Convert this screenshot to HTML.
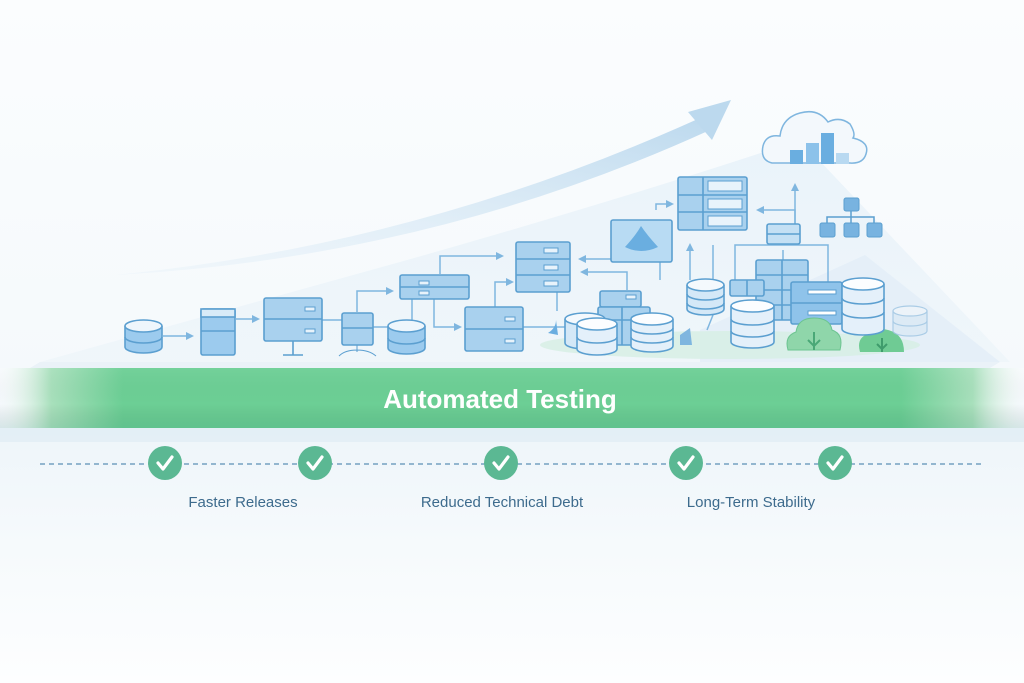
<!DOCTYPE html>
<html><head><meta charset="utf-8"><style>
html,body{margin:0;padding:0;width:1024px;height:683px;overflow:hidden;background:#fff}
svg{display:block}
text{font-family:"Liberation Sans",sans-serif}
</style></head><body>
<svg width="1024" height="683" viewBox="0 0 1024 683" xmlns="http://www.w3.org/2000/svg">
<defs>
<linearGradient id="bg" x1="0" y1="0" x2="0" y2="1">
<stop offset="0" stop-color="#fbfdfe"/><stop offset="0.55" stop-color="#f5f9fc"/><stop offset="0.63" stop-color="#eef5fa"/><stop offset="0.8" stop-color="#f6fafc"/><stop offset="1" stop-color="#fdfeff"/>
</linearGradient>
<linearGradient id="hill" x1="0" y1="0" x2="0" y2="1">
<stop offset="0" stop-color="#e6f1f9"/><stop offset="1" stop-color="#eef5fa"/>
</linearGradient>
<linearGradient id="band" x1="0" y1="0" x2="1" y2="0">
<stop offset="0" stop-color="#ffffff" stop-opacity="0.2"/><stop offset="0.05" stop-color="#a8e0bc"/><stop offset="0.12" stop-color="#6ccf95"/><stop offset="0.88" stop-color="#6ccf95"/><stop offset="0.95" stop-color="#a8e0bc"/><stop offset="1" stop-color="#ffffff" stop-opacity="0.2"/>
</linearGradient>
<linearGradient id="bandv" x1="0" y1="0" x2="0" y2="1">
<stop offset="0" stop-color="#fff" stop-opacity="0.05"/><stop offset="0.6" stop-color="#000" stop-opacity="0"/><stop offset="1" stop-color="#0a6a5a" stop-opacity="0.12"/>
</linearGradient>
<linearGradient id="arr" x1="0" y1="1" x2="1" y2="0">
<stop offset="0" stop-color="#e3eff8" stop-opacity="0.3"/><stop offset="1" stop-color="#bcd9ee"/>
</linearGradient>
<marker id="ah" markerWidth="8" markerHeight="8" refX="6" refY="4" orient="auto" markerUnits="userSpaceOnUse"><path d="M0,0 L8,4 L0,8 z" fill="#7fb6df"/></marker>
</defs>
<rect width="1024" height="683" fill="url(#bg)"/>
<!-- hills -->
<path d="M40 362 L400 262 Q620 200 800 140 L1010 362 Z" fill="url(#hill)" opacity="0.8"/>
<path d="M700 330 L865 255 L1000 362 L700 362Z" fill="#e2eef7" opacity="0.8"/>
<path d="M40 362 L1000 362 L990 368 L30 368Z" fill="#eaf2f8"/>
<!-- ground green tint -->
<ellipse cx="730" cy="345" rx="190" ry="14" fill="#d6efe3" opacity="0.8"/>
<!-- growth arrow -->
<path d="M115 275 Q420 245 700 118 L710 130 Q430 258 115 275Z" fill="url(#arr)"/>
<path d="M688 112 L731 100 L712 140 Z" fill="#bcd9ee"/>

<g stroke="#7fb6df" stroke-width="1.5" fill="none">
<path d="M163 336 H192" marker-end="url(#ah)"/>
<path d="M236 319 H258" marker-end="url(#ah)"/>
<path d="M322 320 H342"/>
<path d="M357 312 V291 H392" marker-end="url(#ah)"/>
<path d="M373 327 H388"/>
<path d="M412 320 V299"/>
<path d="M440 274 V256 H502" marker-end="url(#ah)"/>
<path d="M434 299 V327 H460" marker-end="url(#ah)"/>
<path d="M523 327 H565"/>
<path d="M495 307 V282 H512" marker-end="url(#ah)"/>
<path d="M557 311 V262"/><path d="M557 270 V262" marker-end="url(#ah)"/>
<path d="M611 259 H580" marker-end="url(#ah)"/>
<path d="M627 290 V272 H582" marker-end="url(#ah)"/>
<path d="M660 280 V258 H658"/><path d="M660 260 V250" marker-end="url(#ah)"/>
<path d="M656 210 V204 H672" marker-end="url(#ah)"/>
<path d="M690 280 V245" marker-end="url(#ah)"/>
<path d="M713 280 V245"/>
<path d="M795 230 V210 H758" marker-end="url(#ah)"/>
<path d="M795 230 V185" marker-end="url(#ah)"/>
<path d="M735 280 V245 H828 V282"/>
<path d="M783 260 V250"/>
<path d="M713 315 L707 330"/>
</g>

<!-- cloud -->
<path d="M772 163 Q760 160 763 146 Q766 134 780 136 Q782 118 800 113 Q818 108 828 122 Q840 116 850 124 Q856 134 853 138 Q870 142 866 154 Q863 164 850 163 Z" fill="#f3f8fc" stroke="#7fb6df" stroke-width="1.5"/>
<rect x="790" y="150" width="13" height="14" fill="#6aaee0"/>
<rect x="806" y="143" width="13" height="21" fill="#8cc2ea"/>
<rect x="821" y="133" width="13" height="31" fill="#6aaee0"/>
<rect x="836" y="153" width="13" height="11" fill="#b8d9f1"/>

<!-- org chart -->
<g fill="#78b3e0" stroke="#5b9fd0" stroke-width="1">
<rect x="844" y="198" width="15" height="13" rx="2"/>
<rect x="820" y="223" width="15" height="14" rx="2"/>
<rect x="844" y="223" width="15" height="14" rx="2"/>
<rect x="867" y="223" width="15" height="14" rx="2"/>
</g>
<path d="M851 211 V223 M827 223 V217 H874 V223" stroke="#5b9fd0" stroke-width="1.5" fill="none"/>

<g stroke="#5b9fd0" stroke-width="1.6">
<!-- server left 200 -->
<rect x="201" y="309" width="34" height="46" rx="2" fill="#9ccbee"/>
<rect x="201" y="309" width="34" height="8" fill="#d8ebf8"/>
<line x1="201" y1="331" x2="235" y2="331"/>
<!-- monitor server -->
<rect x="264" y="298" width="58" height="43" rx="2" fill="#a9d1ee"/>
<line x1="264" y1="319" x2="322" y2="319"/>
<line x1="293" y1="341" x2="293" y2="355"/><line x1="283" y1="355" x2="303" y2="355"/>
<!-- small server -->
<rect x="342" y="313" width="31" height="32" rx="2" fill="#a9d1ee"/>
<line x1="342" y1="328" x2="373" y2="328"/>
<path d="M357 345 V352 M339 356 Q345 350 357 350 Q369 350 376 356" fill="none" stroke-width="1"/>
<!-- server 400 -->
<rect x="400" y="275" width="69" height="24" rx="2" fill="#a9d1ee"/>
<line x1="400" y1="287" x2="469" y2="287"/>
<!-- server 465 -->
<rect x="465" y="307" width="58" height="44" rx="2" fill="#a9d1ee"/>
<line x1="465" y1="329" x2="523" y2="329"/>
<!-- server 515 three -->
<rect x="516" y="242" width="54" height="50" rx="2" fill="#a9d1ee"/>
<line x1="516" y1="259" x2="570" y2="259"/><line x1="516" y1="275" x2="570" y2="275"/>
<!-- monitor panel -->
<rect x="611" y="220" width="61" height="42" rx="2" fill="#b8dbf3"/>
<!-- big server 678 -->
<rect x="678" y="177" width="69" height="53" rx="2" fill="#a9d1ee"/>
<line x1="678" y1="195" x2="747" y2="195"/><line x1="678" y1="212" x2="747" y2="212"/>
<line x1="703" y1="177" x2="703" y2="230"/>
<!-- small server 767 -->
<rect x="767" y="224" width="33" height="20" rx="2" fill="#c4e0f4"/>
<line x1="767" y1="234" x2="800" y2="234"/>
<!-- server 756 -->
<rect x="756" y="260" width="52" height="60" rx="2" fill="#a9d1ee"/>
<line x1="756" y1="275" x2="808" y2="275"/><line x1="756" y1="290" x2="808" y2="290"/><line x1="756" y1="305" x2="808" y2="305"/>
<line x1="782" y1="260" x2="782" y2="320"/>
<!-- small 730 -->
<rect x="730" y="280" width="34" height="16" rx="2" fill="#a9d1ee"/>
<line x1="747" y1="280" x2="747" y2="296"/>
<!-- server 791 -->
<rect x="791" y="282" width="51" height="42" rx="2" fill="#8fc3ea"/>
<line x1="791" y1="303" x2="842" y2="303"/>
<!-- cluster 598 -->
<rect x="600" y="291" width="41" height="16" rx="2" fill="#a9d1ee"/>
<rect x="598" y="307" width="52" height="38" rx="2" fill="#a9d1ee"/>
<line x1="598" y1="320" x2="650" y2="320"/><line x1="622" y1="307" x2="622" y2="345"/>
</g>
<g fill="#e8f3fb" stroke="#5b9fd0" stroke-width="1">
<rect x="419" y="281" width="10" height="4"/><rect x="419" y="291" width="10" height="4"/>
<rect x="505" y="317" width="10" height="4"/><rect x="505" y="339" width="10" height="4"/>
<rect x="305" y="307" width="10" height="4"/><rect x="305" y="329" width="10" height="4"/>
<rect x="544" y="248" width="14" height="5"/><rect x="544" y="265" width="14" height="5"/><rect x="544" y="281" width="14" height="5"/>
<rect x="708" y="181" width="34" height="10"/><rect x="708" y="199" width="34" height="10"/><rect x="708" y="216" width="34" height="10"/>
<rect x="626" y="295" width="10" height="4"/>
<rect x="808" y="290" width="28" height="4" fill="#fff"/><rect x="808" y="311" width="28" height="4" fill="#fff"/>
</g>
<path d="M625 247 Q636 235 641 226 Q647 235 658 247 Q641 255 625 247Z" fill="#6aaee0"/>
<path d="M548 333 Q556 328 556 320 L558 335Z" fill="#6aaee0"/>
<path d="M680 335 L690 328 L692 345 L680 345Z" fill="#7fb6df"/>

<!-- cylinders -->
<g stroke="#5b9fd0" stroke-width="1.6">
<path d="M125 326 v21 a18.5 6 0 0 0 37 0 v-21" fill="#9ccbee"/><ellipse cx="143.5" cy="326" rx="18.5" ry="6" fill="#eef6fc"/><path d="M125 337 a18.5 6 0 0 0 37 0" fill="none"/>
<path d="M388 326 v22 a18.5 6 0 0 0 37 0 v-22" fill="#9ccbee"/><ellipse cx="406.5" cy="326" rx="18.5" ry="6" fill="#eef6fc"/><path d="M388 338 a18.5 6 0 0 0 37 0" fill="none"/>
<path d="M687 285 v24 a18.5 6 0 0 0 37 0 v-24" fill="#d4e8f7"/><ellipse cx="705.5" cy="285" rx="18.5" ry="6" fill="#f4f9fd"/><path d="M687 294 a18.5 6 0 0 0 37 0 M687 303 a18.5 6 0 0 0 37 0" fill="none"/>
<path d="M565 319 v24 a20 6 0 0 0 40 0 v-24" fill="#d4e8f7"/><ellipse cx="585" cy="319" rx="20" ry="6" fill="#f4f9fd"/>
<path d="M577 324 v25 a20 6 0 0 0 40 0 v-25" fill="#e4f0fa"/><ellipse cx="597" cy="324" rx="20" ry="6" fill="#fbfdff"/><path d="M577 337 a20 6 0 0 0 40 0" fill="none"/>
<path d="M631 319 v27 a21 6 0 0 0 42 0 v-27" fill="#e4f0fa"/><ellipse cx="652" cy="319" rx="21" ry="6" fill="#fbfdff"/><path d="M631 328 a21 6 0 0 0 42 0 M631 337 a21 6 0 0 0 42 0" fill="none"/>
<path d="M731 306 v36 a21.5 6 0 0 0 43 0 v-36" fill="#e4f0fa"/><ellipse cx="752.5" cy="306" rx="21.5" ry="6" fill="#fbfdff"/><path d="M731 319 a21.5 6 0 0 0 43 0 M731 331 a21.5 6 0 0 0 43 0" fill="none"/>
</g>
<!-- bushes -->
<path d="M788 350 Q784 336 796 332 Q798 318 814 318 Q830 318 832 330 Q844 334 840 350Z" fill="#8fd6aa" stroke="#6cc491" stroke-width="1"/>
<path d="M814 350 V332 M808 340 L814 346 L820 340" stroke="#4aa877" stroke-width="2" fill="none"/>
<path d="M860 352 Q856 338 868 334 Q874 326 888 330 Q904 334 904 352Z" fill="#6fcb94"/>
<path d="M882 352 V338 M877 344 L882 349 L887 344" stroke="#3f9c6c" stroke-width="2" fill="none"/>
<g stroke="#5b9fd0" stroke-width="1.6">
<path d="M842 284 v45 a21 6 0 0 0 42 0 v-45" fill="#e4f0fa"/><ellipse cx="863" cy="284" rx="21" ry="6" fill="#fbfdff"/><path d="M842 298 a21 6 0 0 0 42 0 M842 312 a21 6 0 0 0 42 0" fill="none"/>
</g>
<g stroke="#9cc4e2" stroke-width="1.2" opacity="0.8">
<path d="M893 311 v20 a17 5 0 0 0 34 0 v-20" fill="#dbeaf5"/><ellipse cx="910" cy="311" rx="17" ry="5" fill="#eef5fa"/><path d="M893 321 a17 5 0 0 0 34 0" fill="none"/>
</g>

<!-- banner -->
<rect x="0" y="368" width="1024" height="60" fill="url(#band)"/>
<rect x="0" y="368" width="1024" height="60" fill="url(#bandv)"/>
<rect x="0" y="428" width="1024" height="14" fill="#dcebf3" opacity="0.6"/>
<text x="500" y="408" text-anchor="middle" font-size="26" font-weight="bold" fill="#ffffff">Automated Testing</text>

<!-- dashed line & checks -->
<line x1="40" y1="464" x2="985" y2="464" stroke="#5b8fb5" stroke-width="1.3" stroke-dasharray="5,4"/>
<g fill="#5bb893">
<circle cx="165" cy="463" r="17"/><circle cx="315" cy="463" r="17"/><circle cx="501" cy="463" r="17"/><circle cx="686" cy="463" r="17"/><circle cx="835" cy="463" r="17"/>
</g>
<g stroke="#fff" stroke-width="3.2" fill="none" stroke-linecap="round" stroke-linejoin="round">
<path d="M158 463 l5 6 l9 -12"/><path d="M308 463 l5 6 l9 -12"/><path d="M494 463 l5 6 l9 -12"/><path d="M679 463 l5 6 l9 -12"/><path d="M828 463 l5 6 l9 -12"/>
</g>
<g font-size="15" fill="#3d6b8d" text-anchor="middle">
<text x="243" y="507">Faster Releases</text>
<text x="502" y="507">Reduced Technical Debt</text>
<text x="751" y="507">Long-Term Stability</text>
</g>
</svg>
</body></html>
